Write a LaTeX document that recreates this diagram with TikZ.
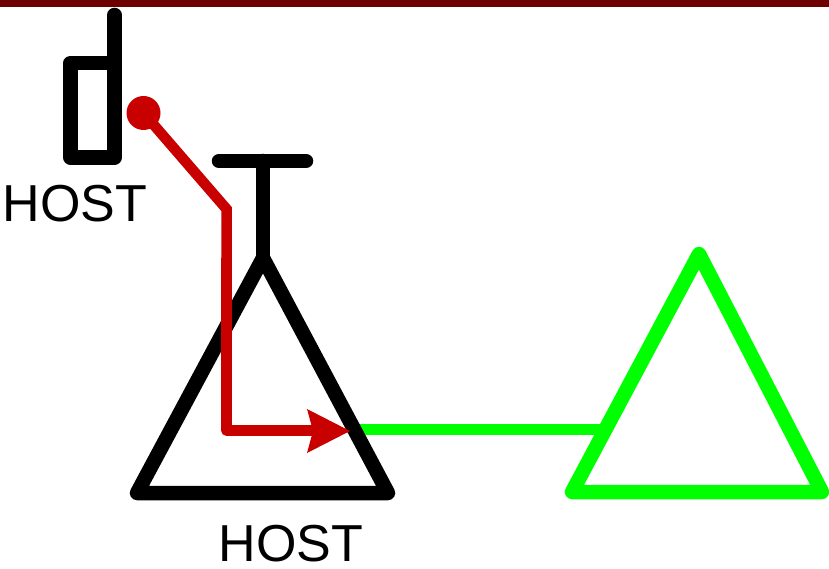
\documentclass[tikz,border=0pt]{standalone}
\usepackage{fontspec}
\setmainfont{Liberation Sans}
\usetikzlibrary{calc}
\usetikzlibrary{arrows}
\definecolor{hostred}{RGB}{200,0,0}
\definecolor{linkgreen}{RGB}{0,255,0}
\definecolor{barred}{RGB}{110,0,0}
\tikzset{
 hostline/.style={black, line width=14.5pt, line cap=round, line join=round},
 greenline/.style={linkgreen, line width=14.5pt, line cap=round, line join=round},
 redline/.style={hostred, line width=10.5pt, line join=round},
 hostlabel/.style={inner sep=0, font=\fontsize{52}{52}\selectfont}
}
\begin{document}
\begin{tikzpicture}[x=1pt,y=-1pt]
\useasboundingbox (0,0) rectangle (829,569);
\fill[barred] (0,0) rectangle (829,7.5);
% phone
\coordinate (A) at (114.5,15);
\draw[hostline] (A)--(114.5,157.5)--(70.5,157.5)--(70.5,63)--(114.5,63);
\node[hostlabel] (h1) at (75,204) {HOST};
% tower
\coordinate (T) at (263,161);
\draw[hostline] (219,161)--(306,161);
\draw[hostline] (T)--(263,258);
\node[hostlabel] (h2) at (291,544) {HOST};
% green
\coordinate (G) at (699,254);
\draw[greenline] (G)--(822,492)--(572,492)--cycle;
\draw[linkgreen, line width=11pt] (350,429.5)--(605,429.5);
\draw[hostline] (263,258)--(388,493)--(137,493)--cycle;
% path
\coordinate (S) at (143.5,113);
\fill[hostred] (S) circle (17);
\draw[redline, line join=miter] (S)--(226.5,209)--(226.5,260);
\draw[redline] (226.5,258)--(226.5,430.5)--(320,430.5);
\fill[hostred] (307,409)--(350,431)--(307,453)--(313,431)--cycle;
\end{tikzpicture}
\end{document}
